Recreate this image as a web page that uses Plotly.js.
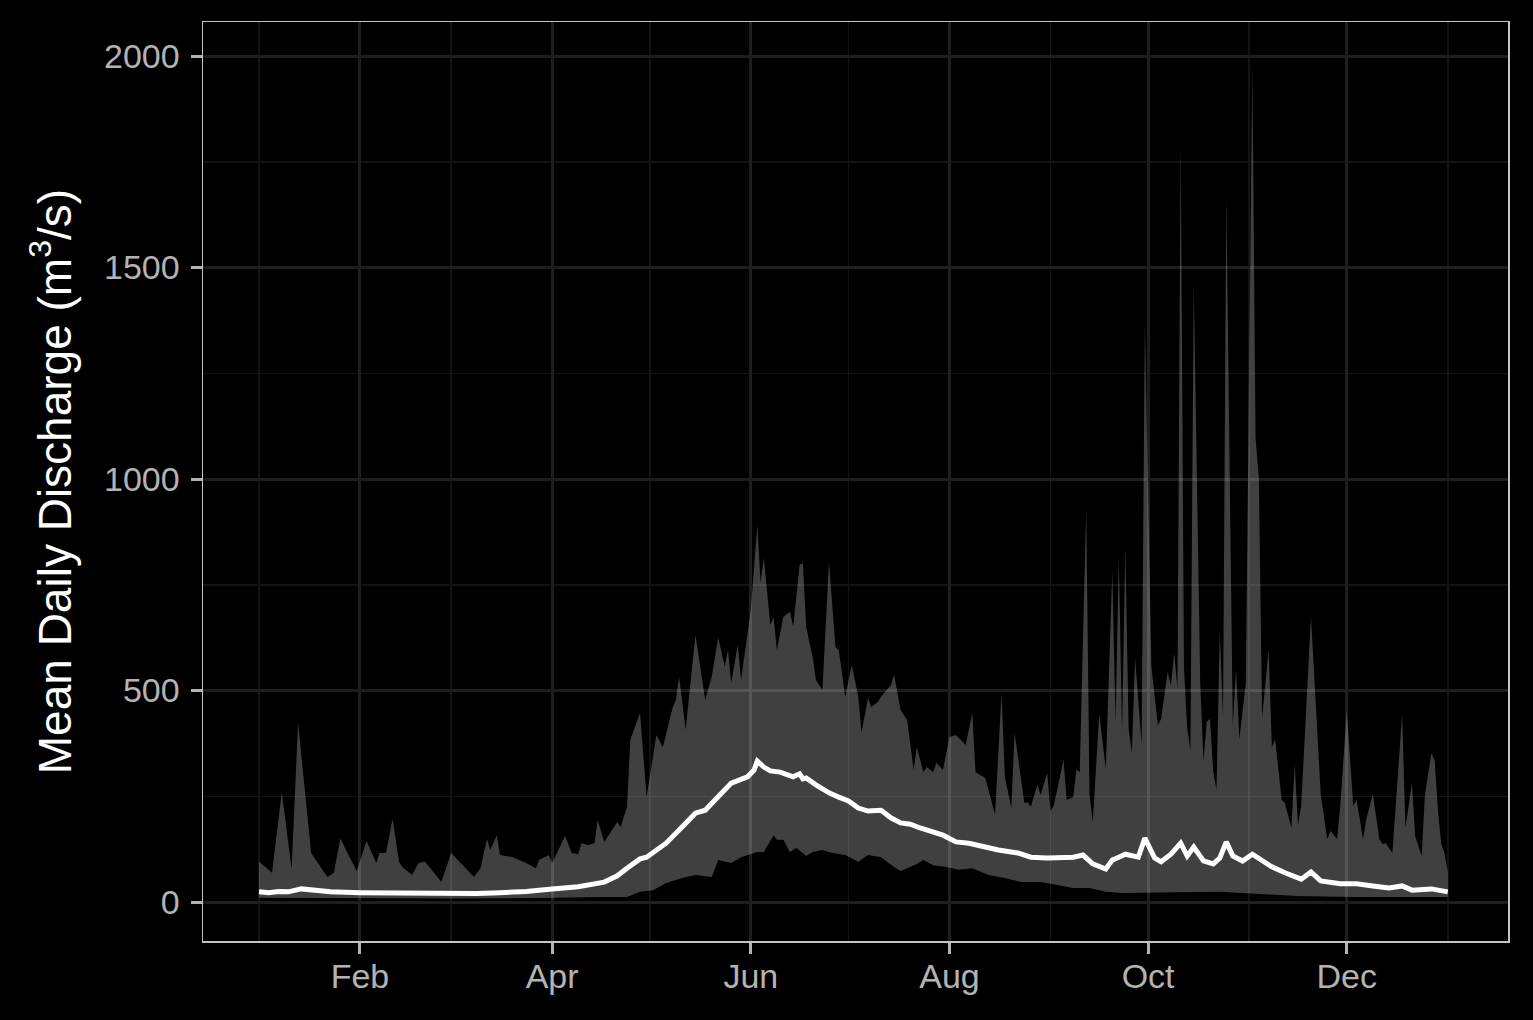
<!DOCTYPE html>
<html><head><meta charset="utf-8">
<script src="https://cdn.plot.ly/plotly-3.0.1.min.js"></script>
<style>html,body{margin:0;padding:0;background:#000;} #chart{width:1533px;height:1020px;}</style>
</head><body><div id="chart"></div>
<script>
// Day offsets from 1 Jan (day 0) and values
const maxDays = [0,4,7,10,12,16,21,23,25,27,30,33,36,37,39,41,43,44,47,49,51,56,59,61,66,68,70,71,73,74,78,82,85,86,89,90,94,96,98,99,101,103,104,106,108,110,111,113,114,117,119,122,124,127,128,129,131,132,134,137,139,141,143,144,145,147,148,151,153,154,155,157,158,159,161,163,164,166,167,168,170,171,173,175,177,178,180,182,184,185,187,188,190,191,194,195,197,199,201,202,204,205,207,208,210,212,214,217,219,220,223,226,228,229,231,232,235,236,237,239,240,242,243,244,247,248,250,251,252,254,255,256,258,260,262,263,264,265,266,267,268,269,271,272,274,276,277,279,280,281,282,283,284,285,286,287,289,290,291,292,293,294,295,296,297,299,300,301,303,305,306,307,308,310,311,312,313,314,315,317,318,319,320,322,323,326,328,329,331,332,334,336,337,339,340,342,344,345,346,348,351,352,354,355,357,358,360,361,362,363,364,365];
const maxVals = [95,69,260,78,423,116,59,69,151,118,73,144,92,116,116,196,95,83,64,92,95,47,116,99,59,80,149,123,158,111,106,92,80,99,111,92,156,116,113,139,135,139,194,142,165,189,177,225,383,447,248,395,366,459,478,532,407,485,631,478,532,626,556,596,518,608,525,690,891,754,813,655,674,596,674,686,650,797,801,650,579,525,501,804,603,596,485,560,485,400,482,461,473,485,513,537,454,430,312,366,307,319,307,329,312,390,395,371,447,307,293,206,496,296,222,400,234,236,225,277,253,305,215,227,336,241,248,314,307,931,255,189,444,314,780,426,813,400,839,411,352,577,373,1371,556,418,433,544,511,589,504,1797,556,411,359,1463,518,333,426,433,307,267,641,437,1667,418,551,385,518,1974,1095,1002,437,596,366,385,307,241,234,175,326,182,227,518,674,255,149,168,149,227,452,227,241,149,196,255,149,137,139,116,444,175,281,156,109,255,352,333,215,137,116,71];

const medDays = [0,3,6,9,13,17,22,31,43,52,60,67,74,82,90,98,106,110,113,117,119,123,125,129,134,137,140,145,150,152,153,155,157,160,164,166,167,168,171,175,178,181,184,187,191,194,197,200,203,207,210,214,218,223,227,233,237,242,245,250,253,256,260,262,264,266,270,272,275,277,280,283,285,287,290,293,295,297,299,302,305,308,311,315,320,323,326,332,337,342,347,351,354,360,365];
const medVals = [24,22,25,24,31,27,24,22,21,20,19,20,22,25,31,36,47,62,80,102,106,130,139,170,210,217,241,281,296,312,333,319,310,307,296,303,291,293,277,258,248,239,222,215,217,199,187,184,175,165,158,142,139,130,123,116,106,104,104,106,111,90,78,99,106,113,106,151,104,95,113,139,109,130,97,90,104,142,109,97,113,97,83,69,54,71,50,43,43,38,33,38,28,31,24];

const minDays = [0,30,60,90,105,113,117,121,125,130,134,139,141,145,148,153,155,158,159,161,163,165,168,170,173,176,180,184,187,191,195,197,202,204,207,211,215,219,224,229,234,240,245,250,255,260,265,270,276,295,319,335,365];
const minVals = [10,9,8,10,12,12,24,28,45,57,64,59,99,92,106,118,118,158,147,147,118,128,109,118,123,116,111,95,111,106,83,73,90,99,87,83,76,80,64,57,47,47,40,33,33,24,21,21,21,24,14,12,12];

const majorMonths = ['2021-02-01','2021-04-01','2021-06-01','2021-08-01','2021-10-01','2021-12-01'];
const majorLabels = ['Feb','Apr','Jun','Aug','Oct','Dec'];
const minorMonths = ['2021-01-01','2021-03-01','2021-05-01','2021-07-01','2021-09-01','2021-11-01','2022-01-01'];
const yTicks = [0,500,1000,1500,2000];

const BASE = Date.UTC(2021,0,1);
const DAY = 86400000;
function toDate(d){
  const t = new Date(BASE + d*DAY);
  const p = n => String(n).padStart(2,'0');
  return t.getUTCFullYear()+'-'+p(t.getUTCMonth()+1)+'-'+p(t.getUTCDate())+' '+p(t.getUTCHours())+':'+p(t.getUTCMinutes());
}

const ribbonX = maxDays.map(toDate).concat(minDays.slice().reverse().map(toDate));
const ribbonY = maxVals.concat(minVals.slice().reverse());

const traces = [
  {x: ribbonX, y: ribbonY, type:'scatter', mode:'lines', fill:'toself',
   fillcolor:'rgba(255,255,255,0.25)', line:{width:0, color:'rgba(0,0,0,0)'}, hoverinfo:'skip'},
  {x: medDays.map(toDate), y: medVals, type:'scatter', mode:'lines',
   line:{color:'#ffffff', width:5}}
];

const tickFont = {family:'Liberation Sans, Arial, sans-serif', size:34, color:'#b3b3b3'};
const layout = {
  width:1533, height:1020,
  paper_bgcolor:'#000000', plot_bgcolor:'#000000',
  margin:{l:203, r:25, t:22, b:79},
  showlegend:false,
  xaxis:{
    type:'date',
    range:[toDate(-17.2), toDate(383.5)],
    tickmode:'array', tickvals:majorMonths, ticktext:majorLabels,
    ticks:'outside', ticklen:11, tickwidth:3, tickcolor:'#b3b3b3',
    tickfont:tickFont, ticklabelstandoff:-6,
    showgrid:true, gridcolor:'#1e1e1e', gridwidth:3,
    minor:{tickmode:'array', tickvals:minorMonths, showgrid:true, gridcolor:'#131313', gridwidth:1.5, ticks:''},
    showline:true, mirror:true, linecolor:'#c4c4c4', linewidth:1.5,
    zeroline:false
  },
  yaxis:{
    range:[-92.2, 2080.4],
    tickmode:'array', tickvals:yTicks,
    ticks:'outside', ticklen:11, tickwidth:3, tickcolor:'#b3b3b3',
    tickfont:tickFont, ticklabelstandoff:4,
    showgrid:true, gridcolor:'#1e1e1e', gridwidth:3,
    minor:{tickmode:'linear', tick0:250, dtick:500, showgrid:true, gridcolor:'#131313', gridwidth:1.5, ticks:''},
    showline:true, mirror:true, linecolor:'#c4c4c4', linewidth:1.5,
    zeroline:false,
    title:{text:'Mean Daily Discharge (m<sup>3</sup>/s)', font:{family:'Liberation Sans, Arial, sans-serif', size:46, color:'#ffffff'}, standoff:18}
  }
};

Plotly.newPlot('chart', traces, layout, {displayModeBar:false, staticPlot:true});
</script>
</body></html>
